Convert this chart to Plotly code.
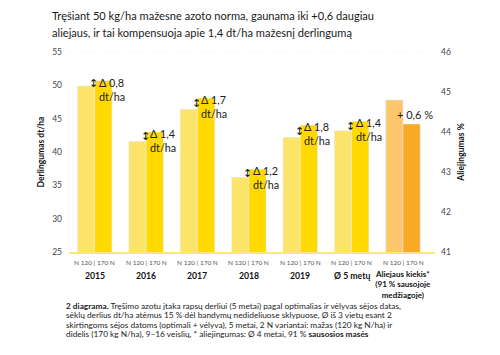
import plotly.graph_objects as go

categories = ["2015", "2016", "2017", "2018", "2019", "Ø 5 metų", "oil"]
cat_labels = ["2015", "2016", "2017", "2018", "2019", "Ø 5 metų",
              "Aliejaus kiekis*<br>(91 % sausojoje<br>medžiagoje)"]
yield_cats = categories[:6]
yield_n120 = [49.9, 41.6, 46.4, 36.2, 42.2, 43.2]
yield_n170 = [50.7, 43.0, 48.1, 37.4, 44.0, 44.6]
delta_labels = ["Δ 0,8", "Δ 1,4", "Δ 1,7", "Δ 1,2", "Δ 1,8", "Δ 1,4"]
oil_cat = ["oil"]
oil_n120 = [44.8]
oil_n170 = [44.2]
oil_label = "+ 0,6 %"
sub_label = "N 120 | 170 N"
title_lines = ["Tręšiant 50 kg/ha mažesne azoto norma, gaunama iki +0,6 daugiau",
               "aliejaus, ir tai kompensuoja apie 1,4 dt/ha mažesnį derlingumą"]
caption_lines = [
    "<b>2 diagrama.</b> Tręšimo azotu įtaka rapsų derliui (5 metai) pagal optimalias ir vėlyvas sėjos datas,",
    "sėklų derlius dt/ha atėmus 15 % dėl bandymų nedideliuose sklypuose, Ø iš 3 vietų esant 2",
    "skirtingoms sėjos datoms (optimali + vėlyva), 5 metai, 2 N variantai: mažas (120 kg N/ha) ir",
    "didelis (170 kg N/ha), 9–16 veislių, * aliejingumas: Ø 4 metai, 91 % <b>sausosios masės</b>",
]

FONT = "Lato"
C120 = "#FCE46A"
C170 = "#FFD900"
O120 = "#FDC66C"
O170 = "#F8AA25"

# page body has an 8px margin; figure is sized so plot lands at page x 69..435, y 52..252
OFF = 8
W, H = 500 - OFF, 355 - OFF
L, R, T, B = 69 - OFF, 65, 52 - OFF, 103
PW = W - L - R
PH = H - T - B


def px_x(x):  # page x -> paper coords
    return (x - 69) / PW


def px_y(y):  # page y -> paper coords
    return (252 - y) / PH


fig = go.Figure()
fig.add_trace(go.Bar(x=yield_cats, y=yield_n120, marker_color=C120, offsetgroup="a",
                     yaxis="y", showlegend=False))
fig.add_trace(go.Bar(x=yield_cats, y=yield_n170, marker_color=C170, offsetgroup="b",
                     yaxis="y", showlegend=False))
fig.add_trace(go.Bar(x=oil_cat, y=oil_n120, marker_color=O120, offsetgroup="a",
                     yaxis="y2", showlegend=False))
fig.add_trace(go.Bar(x=oil_cat, y=oil_n170, marker_color=O170, offsetgroup="b",
                     yaxis="y2", showlegend=False))

ann = []
for i, c in enumerate(yield_cats):
    mid = (yield_n120[i] + yield_n170[i]) / 2
    ann.append(dict(x=i, y=mid, xref="x", yref="y", text="↕", showarrow=False,
                    xanchor="center", yanchor="middle", xshift=-1, borderpad=0,
                    font=dict(family="DejaVu Sans", size=11, color="#111")))
    ann.append(dict(x=i, y=yield_n170[i], xref="x", yref="y",
                    text=delta_labels[i] + "<br>dt/ha",
                    showarrow=False, xanchor="left", yanchor="top", align="left",
                    xshift=3, yshift=6, borderpad=0,
                    font=dict(family=FONT, size=10.8, color="#222")))
ann.append(dict(x=6, y=oil_n170[0], xref="x", yref="y2", text=oil_label, showarrow=False,
                xanchor="left", yanchor="middle", xshift=-8, yshift=10,
                font=dict(family=FONT, size=11, color="#222")))
for i, c in enumerate(categories):
    ann.append(dict(x=i, y=0, xref="x", yref="paper", text=sub_label, showarrow=False,
                    yanchor="middle", yshift=-10, font=dict(family=FONT, size=6.5, color="#555")))
    is_oil = c == "oil"
    ann.append(dict(x=i, y=0, xref="x", yref="paper", text="<b>" + cat_labels[i] + "</b>",
                    showarrow=False, yanchor="top", yshift=-16 if is_oil else -17, borderpad=0,
                    font=dict(family=FONT, size=8 if is_oil else 8.7, color="#111")))

for k, line in enumerate(title_lines):
    ann.append(dict(x=px_x(50), y=px_y(15.5 + 17 * k), xref="paper", yref="paper", text=line,
                    showarrow=False, xanchor="left", yanchor="middle",
                    font=dict(family=FONT, size=11.1, color="#1a1a1a")))

for k, line in enumerate(caption_lines):
    ann.append(dict(x=px_x(65), y=px_y(306 + 9.3 * k), xref="paper", yref="paper", text=line,
                    showarrow=False, xanchor="left", yanchor="middle", borderpad=0,
                    font=dict(family=FONT, size=8.3, color="#222")))

fig.update_layout(
    width=W, height=H,
    margin=dict(l=L, r=R, t=T, b=B),
    paper_bgcolor="white", plot_bgcolor="white",
    bargap=0.33, bargroupgap=0,
    barmode="group",
    annotations=ann,
    xaxis=dict(categoryorder="array", categoryarray=categories, showticklabels=False,
               showgrid=False, showline=True, linecolor="#FBE77A", linewidth=1.5,
               ticks="", zeroline=False, automargin=False),
    yaxis=dict(range=[25, 55], dtick=5, showgrid=False, zeroline=False, showline=False,
               automargin=False,
               tickfont=dict(family=FONT, size=8.5, color="#444"), ticklabelstandoff=6,
               title=dict(text="<b>Derlingumas dt/ha</b>", font=dict(family=FONT, size=8.5, color="#111"),
                          standoff=6)),
    yaxis2=dict(range=[41, 46], dtick=1, overlaying="y", side="right", showgrid=False,
                zeroline=False, showline=False, automargin=False,
                tickfont=dict(family=FONT, size=8.5, color="#444"), ticklabelstandoff=5,
                title=dict(text="<b>Aliejingumas %</b>", font=dict(family=FONT, size=8.5, color="#111"),
                           standoff=8)),
    shapes=[dict(type="line", xref="paper", yref="y", x0=0, x1=0.98, y0=55, y1=55,
                 line=dict(color="#eeeeee", width=1, dash="dot"))],
)

fig.write_html("out.html")
